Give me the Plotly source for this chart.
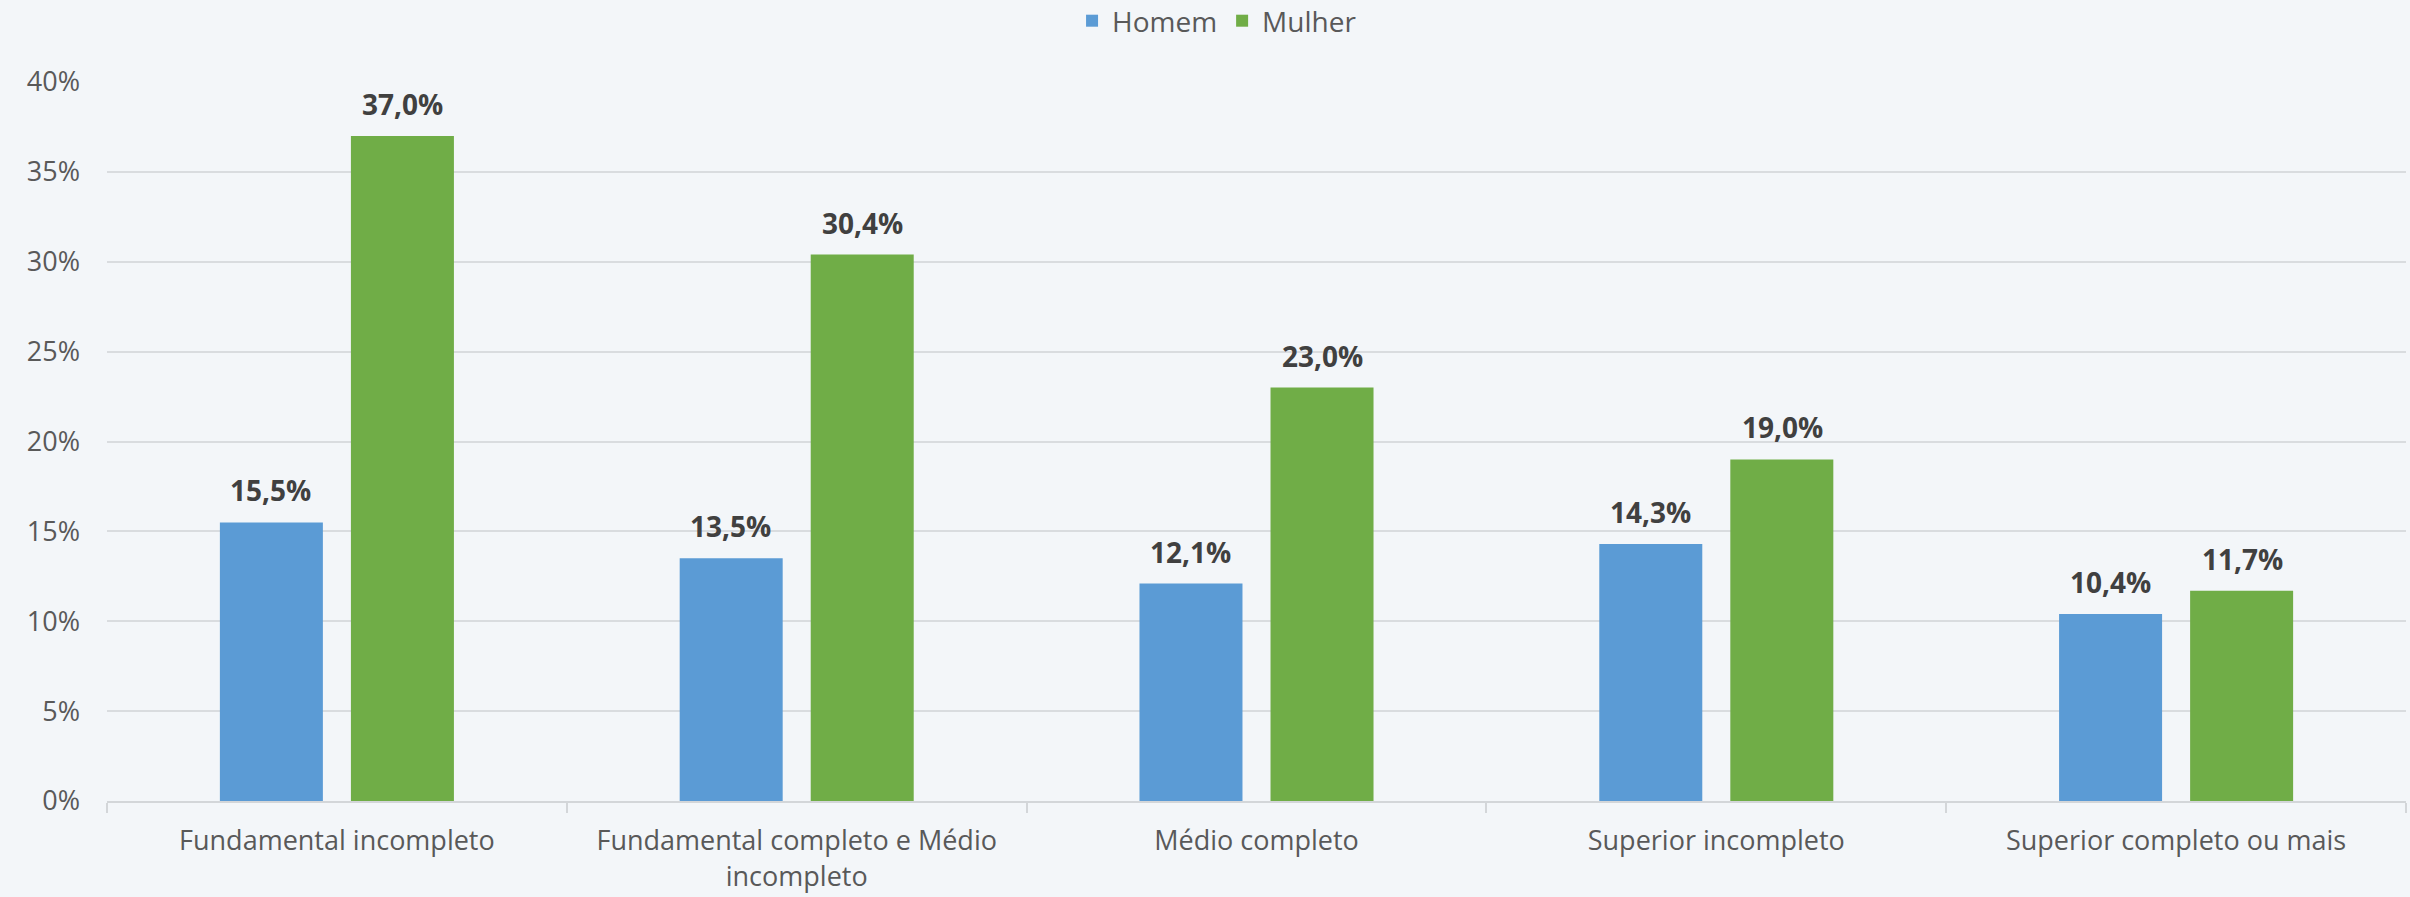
import plotly.graph_objects as go

categories = ["Fundamental incompleto", "Fundamental completo e Médio<br>incompleto",
              "Médio completo", "Superior incompleto", "Superior completo ou mais"]
homem = [15.5, 13.5, 12.1, 14.3, 10.4]
mulher = [37.0, 30.4, 23.0, 19.0, 11.7]
series_names = ["Homem", "Mulher"]
colors = ["#5B9BD5", "#70AD47"]
y_ticks = [0, 5, 10, 15, 20, 25, 30, 35, 40]
y_tick_text = [f"{t}%" for t in y_ticks]

FONT = "Open Sans"
fig = go.Figure()
for name, vals, col in zip(series_names, [homem, mulher], colors):
    fig.add_trace(go.Bar(name=name, x=categories, y=vals, marker=dict(color=col, line=dict(width=0))))

def fmt(v):
    return f"{v:.1f}".replace(".", ",") + "%"

for vals, shift in [(homem, -66), (mulher, 66)]:
    for c, v in zip(categories, vals):
        fig.add_annotation(x=c, y=v, text="<b>" + fmt(v) + "</b>", showarrow=False,
                           xshift=shift, yshift=11, yanchor="bottom",
                           font=dict(family=FONT, size=28, color="#404040"))

fig.update_layout(
    width=2410, height=897,
    paper_bgcolor="#F3F6F9", plot_bgcolor="#F3F6F9",
    margin=dict(l=107, r=4, t=82, b=96),
    barmode="group", bargap=0.43, bargroupgap=0.214,
    font=dict(family=FONT, size=26, color="#595959"),
    legend=dict(orientation="h", xref="container", yref="container", x=0.505, xanchor="center",
                y=1 - 21 / 897, yanchor="middle", font=dict(size=28, color="#595959"),
                itemwidth=30, traceorder="normal"),
    xaxis=dict(showline=True, linecolor="#D3D6D9", linewidth=2, tickson="boundaries",
               ticks="outside", ticklen=10, tickcolor="#D3D6D9", tickwidth=2,
               ticklabelstandoff=15,
               showgrid=False, tickfont=dict(size=27, color="#595959")),
    yaxis=dict(range=[0, 40], tickmode="array", tickvals=y_ticks, ticktext=y_tick_text,
               showgrid=True, gridcolor="#D9DCDF", gridwidth=2, zeroline=False, showline=False,
               ticklabelstandoff=26, tickfont=dict(size=27, color="#595959")),
)
fig.write_html("out.html", config={"displayModeBar": False},
               post_script="document.body.style.margin='0';document.body.style.padding='0';")
